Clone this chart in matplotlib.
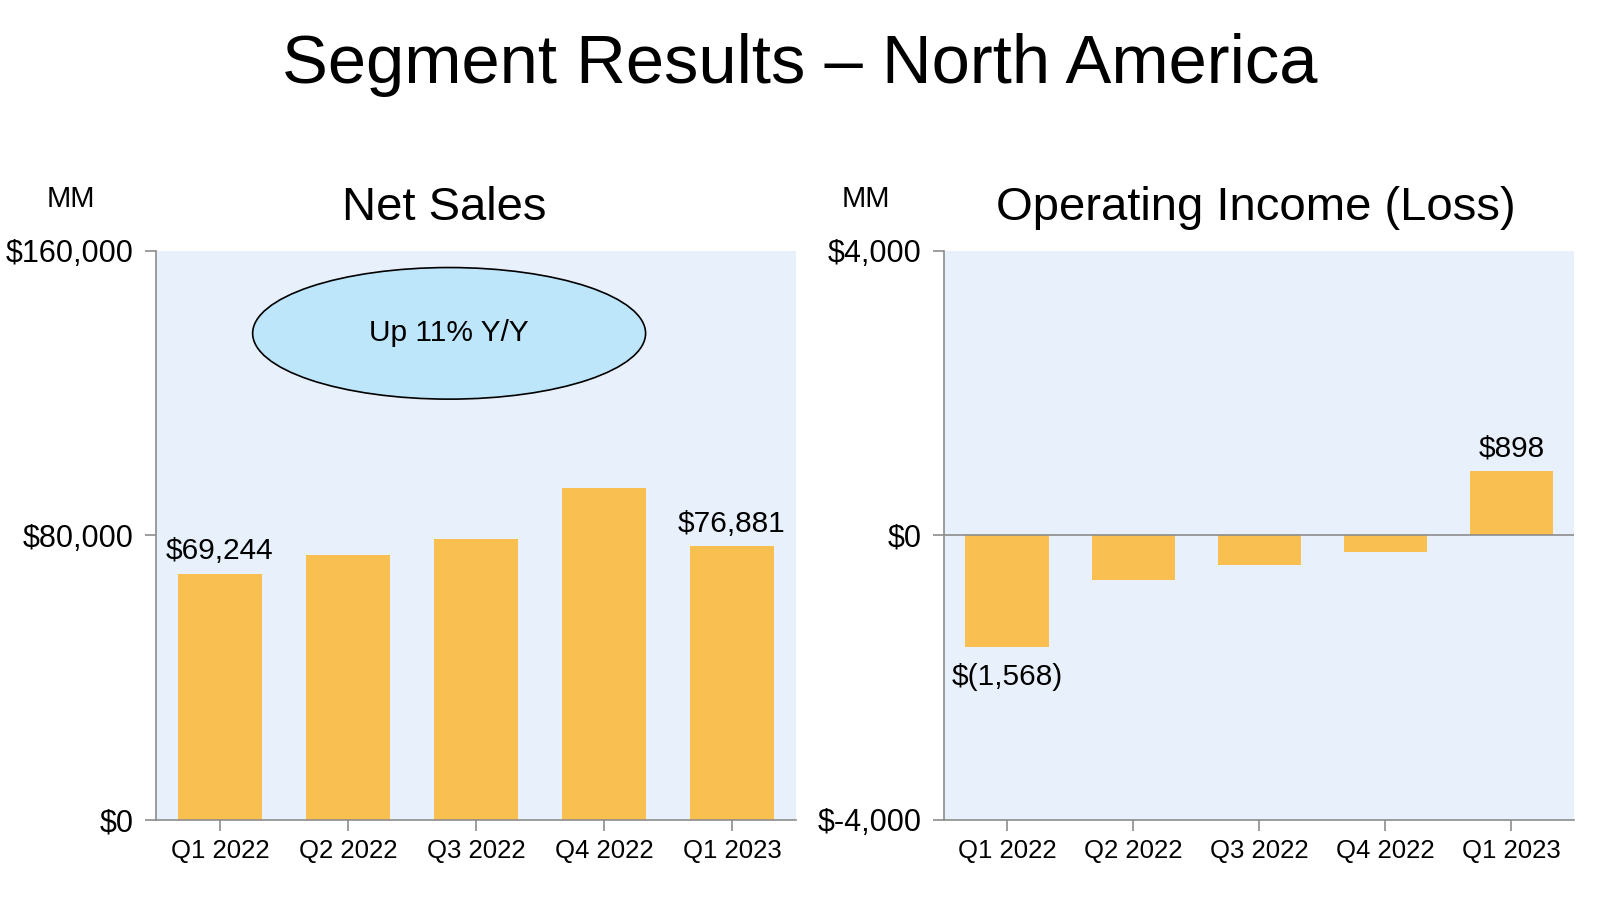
import matplotlib.pyplot as plt
from matplotlib.patches import Ellipse

plt.rcParams['font.family'] = ['Liberation Sans', 'DejaVu Sans']

quarters = ['Q1 2022', 'Q2 2022', 'Q3 2022', 'Q4 2022', 'Q1 2023']
net_sales = [69244, 74430, 78843, 93363, 76881]
op_income = [-1568, -627, -412, -240, 898]

ns_ticks = [0, 80000, 160000]
ns_ticklabels = ['$0', '$80,000', '$160,000']
oi_ticks = [-4000, 0, 4000]
oi_ticklabels = ['$-4,000', '$0', '$4,000']

bar_color = '#F9BF50'
bg_color = '#E8F1FB'
spine_color = '#8C8C8C'

fig = plt.figure(figsize=(16, 8.99), dpi=100)
fig.text(0.5, 0.928, 'Segment Results \u2013 North America', ha='center', va='center', fontsize=49.5)

ax1 = fig.add_axes([0.0975, 0.088, 0.40, 0.633])
ax2 = fig.add_axes([0.59, 0.088, 0.394, 0.633])


def style_axes(ax):
    ax.set_facecolor(bg_color)
    for s in ['top', 'right']:
        ax.spines[s].set_visible(False)
    for s in ['left', 'bottom']:
        ax.spines[s].set_color(spine_color)
        ax.spines[s].set_linewidth(1.2)
    ax.tick_params(axis='both', colors=spine_color, length=8, width=1.2, labelcolor='black')
    ax.tick_params(axis='x', labelsize=18.5, pad=6)
    ax.tick_params(axis='y', labelsize=22, pad=8)
    ax.set_xlim(-0.5, 4.5)


# Net sales
x = range(len(quarters))
ax1.bar(x, net_sales, width=0.66, color=bar_color, zorder=2)
style_axes(ax1)
ax1.set_ylim(0, 160000)
ax1.set_yticks(ns_ticks)
ax1.set_yticklabels(ns_ticklabels)
ax1.set_xticks(list(x))
ax1.set_xticklabels(quarters)
fig.text(0.2775, 0.769, 'Net Sales', ha='center', va='center', fontsize=34)
ax1.text(0, net_sales[0] + 2500, '${:,}'.format(net_sales[0]), ha='center', va='bottom', fontsize=21.5)
ax1.text(4, net_sales[4] + 2500, '${:,}'.format(net_sales[4]), ha='center', va='bottom', fontsize=21.5)
ell = Ellipse((1.79, 136800), 3.07, 37000, facecolor='#BDE6FB', edgecolor='black', linewidth=1.2, zorder=3)
ax1.add_patch(ell)
ax1.text(1.79, 136800, 'Up 11% Y/Y', ha='center', va='center', fontsize=21.5, zorder=4)
fig.text(0.044, 0.779, 'MM', ha='center', va='center', fontsize=21)

# Operating income
ax2.bar(x, op_income, width=0.66, color=bar_color, zorder=2)
style_axes(ax2)
ax2.axhline(0, color=spine_color, linewidth=1.2, zorder=3)
ax2.set_ylim(-4000, 4000)
ax2.set_yticks(oi_ticks)
ax2.set_yticklabels(oi_ticklabels)
ax2.set_xticks(list(x))
ax2.set_xticklabels(quarters)
fig.text(0.785, 0.769, 'Operating Income (Loss)', ha='center', va='center', fontsize=34)
ax2.text(0, op_income[0] - 230, '$({:,})'.format(-op_income[0]), ha='center', va='top', fontsize=21.5)
ax2.text(4, op_income[4] + 130, '${:,}'.format(op_income[4]), ha='center', va='bottom', fontsize=21.5)
fig.text(0.541, 0.779, 'MM', ha='center', va='center', fontsize=21)

fig.savefig('out.png', dpi=100)
